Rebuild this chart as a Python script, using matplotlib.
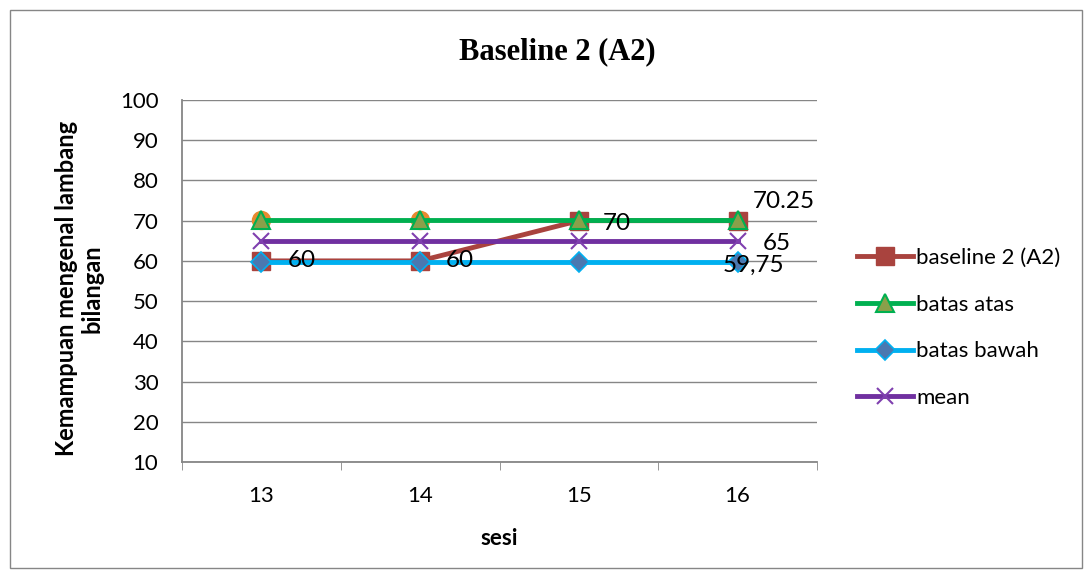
import matplotlib
matplotlib.use("Agg")
import matplotlib.pyplot as plt
import numpy as np
from matplotlib.patches import Rectangle

sessions = ["13", "14", "15", "16"]
baseline = [60, 60, 70, 70]
batas_atas = [70.25, 70.25, 70.25, 70.25]
batas_bawah = [59.75, 59.75, 59.75, 59.75]
mean_vals = [65, 65, 65, 65]
hidden = [70.25, 70.25, np.nan, np.nan]
yticks = [10, 20, 30, 40, 50, 60, 70, 80, 90, 100]

sans = ["Lato", "DejaVu Sans"]
fs = 16
fig = plt.figure(figsize=(10.92, 5.77), dpi=100)
ax = fig.add_axes([182/1092, 1-462/577, (817-182)/1092, (462-100)/577])
x = np.arange(1, len(sessions)+1)

ax.set_ylim(10, 100)
ax.set_xlim(0.5, len(sessions)+0.5)
ax.set_yticks(yticks)
ax.set_yticklabels([str(v) for v in yticks], fontsize=fs, family=sans)
ax.set_xticks(x)
ax.set_xticklabels(sessions, fontsize=fs, family=sans)
ax.set_xticks(np.arange(0.5, len(sessions)+1, 1), minor=True)
ax.tick_params(axis="x", which="major", length=0, pad=17)
ax.tick_params(axis="x", which="minor", length=6, color="#868686", direction="out")
ax.tick_params(axis="y", length=0, pad=17)
for s in ["top", "right"]:
    ax.spines[s].set_visible(False)
for s in ["left", "bottom"]:
    ax.spines[s].set_color("#868686")
    ax.spines[s].set_linewidth(1.3)
ax.yaxis.grid(True, color="#868686", lw=1)
ax.set_axisbelow(True)

ax.plot(x, hidden, ls="none", marker="o", ms=13, color="#E8892F", zorder=2)
l1, = ax.plot(x, baseline, color="#A9433E", lw=3.5, marker="s", ms=13,
              markerfacecolor="#A9433E", markeredgecolor="#A9433E", label="baseline 2 (A2)", zorder=3)
l2, = ax.plot(x, batas_atas, color="#00B050", lw=3.5, marker="^", ms=13,
              markerfacecolor="#8AA04A", markeredgecolor="#00B050", markeredgewidth=1.5, label="batas atas", zorder=4)
l3, = ax.plot(x, batas_bawah, color="#00B0F0", lw=3.5, marker="D", ms=10,
              markerfacecolor="#4A78B0", markeredgecolor="#00B0F0", markeredgewidth=1.2, label="batas bawah", zorder=5)
l4, = ax.plot(x, mean_vals, color="#7030A0", lw=3.5, marker="x", ms=12,
              markeredgecolor="#7F3FAF", markeredgewidth=1.5, label="mean", zorder=6)

lfs = 17.5
for i in range(2):
    ax.annotate(str(baseline[i]), (x[i], baseline[i]), xytext=(26, 0), textcoords="offset pixels",
                va="center", ha="left", fontsize=lfs, family=sans, zorder=10)
ax.annotate(str(baseline[2]), (x[2], baseline[2]), xytext=(24, -3), textcoords="offset pixels",
            va="center", ha="left", fontsize=lfs, family=sans, zorder=10)
ax.annotate(f"{batas_atas[3]:.2f}", (x[3], batas_atas[3]), xytext=(15, 18), textcoords="offset pixels",
            va="center", ha="left", fontsize=lfs, family=sans, zorder=10)
ax.annotate(str(mean_vals[3]), (x[3], mean_vals[3]), xytext=(25, -3), textcoords="offset pixels",
            va="center", ha="left", fontsize=lfs, family=sans, zorder=10)
ax.annotate(f"{batas_bawah[3]:.2f}".replace(".", ","), (x[3], batas_bawah[3]), xytext=(-15, -3),
            textcoords="offset pixels", va="center", ha="left", fontsize=lfs, family=sans, zorder=10)

ax.set_xlabel("sesi", fontsize=fs, fontweight="bold", family=sans, labelpad=16)
ax.yaxis.set_label_coords(79/1092, 0.5, transform=fig.transFigure)
ax.set_ylabel("Kemampuan mengenal lambang\nbilangan", fontsize=17, fontweight="bold", family=sans,
              linespacing=1.15, va="center")
fig.text(557/1092, 1-52/577, "Baseline 2 (A2)", ha="center", va="center", fontsize=22,
         fontweight="bold", family="Liberation Serif")

fig.legend(handles=[l1, l2, l3, l4], loc="center left", bbox_to_anchor=(837/1092, 1-328/577),
           frameon=False, prop={"family": sans, "size": 16}, handlelength=2.5,
           handletextpad=0.15, labelspacing=1.2)

fig.patches.append(Rectangle((10/1092, 9/577), 1072/1092, 558/577, transform=fig.transFigure,
                             fill=False, edgecolor="#868686", lw=1))
fig.savefig("out.png", dpi=100)
